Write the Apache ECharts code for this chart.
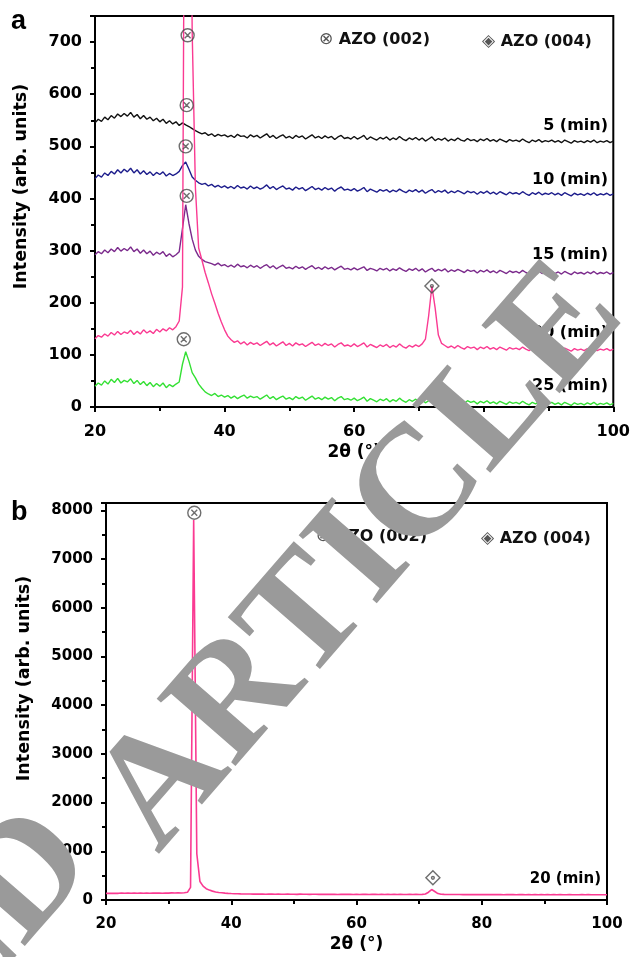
<!DOCTYPE html>
<html>
  <head>
    <meta charset="utf-8" />
    <title>AZO XRD</title>
    <script src="https://cdn.jsdelivr.net/npm/echarts@6/dist/echarts.min.js"></script>
    <style>
      html, body { margin: 0; padding: 0; background: #fff; }
    </style>
  </head>
  <body>
    <div id="main" style="width: 633px; height: 957px"></div>

    <script type="text/javascript">
      // intensities sampled every 0.5 deg of 2theta, from 20 to 100
      var thetaStart = 20;
      var thetaStep = 0.5;

      var min5 = [
        545, 552, 548, 556, 551, 559, 554, 562, 557, 563,
        558, 565, 556, 561, 553, 559, 552, 556, 549, 554,
        547, 552, 544, 549, 543, 547, 540, 545, 541, 538,
        534, 530, 527, 524, 526, 521, 524, 519, 523, 520,
        522, 518, 521, 517, 523, 519, 520, 516, 522, 518,
        521, 516, 520, 524, 517, 521, 515, 519, 522, 516,
        519, 515, 521, 517, 520, 514, 518, 522, 516, 519,
        515, 520, 516, 519, 513, 518, 521, 515, 517, 514,
        519, 514, 517, 521, 513, 518, 515, 512, 517, 514,
        518, 512, 516, 513, 519, 514, 511, 516, 513, 517,
        512, 516, 510, 514, 518, 511, 515, 512, 516, 510,
        514, 511, 516, 512, 510, 515, 511, 513, 509, 514,
        511, 515, 510, 513, 509, 514, 511, 508, 513, 510,
        512, 509, 514, 510, 507, 512, 509, 513, 508, 511,
        509, 512, 508, 511, 507, 512, 509, 506, 511, 508,
        510, 507, 511, 508, 512, 507, 510, 508, 511, 507,
        510
      ];
      var min10 = [
        438, 445, 441, 449, 444, 452, 447, 455, 449, 456,
        451, 458, 449, 455, 447, 453, 446, 451, 444, 450,
        446, 451, 443, 448, 444, 447, 452, 463, 470, 456,
        441, 435, 430, 427, 429, 424, 427, 422, 425, 421,
        424, 420, 423, 419, 425, 420, 422, 418, 424, 419,
        422, 418, 421, 426, 419, 423, 417, 421, 424, 418,
        420, 416, 422, 418, 421, 415, 419, 423, 417, 420,
        416, 421, 417, 420, 414, 419, 422, 416, 418, 415,
        419, 414, 417, 421, 413, 418, 415, 412, 417, 414,
        417, 412, 416, 413, 418, 414, 411, 416, 413, 417,
        412, 416, 410, 414, 417, 411, 415, 412, 416, 410,
        414, 411, 415, 412, 409, 414, 411, 413, 408, 413,
        410, 414, 409, 412, 408, 413, 410, 407, 412, 409,
        411, 408, 413, 409, 406, 411, 408, 412, 407, 410,
        408, 411, 407, 410, 406, 411, 408, 405, 410, 407,
        409, 406, 410, 407, 411, 406, 409, 407, 410, 406,
        409
      ];
      var min15 = [
        292, 298, 294, 301, 296, 303, 298, 306, 299, 304,
        300, 307, 298, 303, 295, 301, 294, 299, 291, 297,
        293, 298, 289, 294, 288, 292, 298, 342, 388, 352,
        322, 301, 289, 283, 279, 277, 275, 272, 276, 271,
        273, 269, 272, 268, 274, 269, 271, 267, 272, 268,
        271, 266, 270, 273, 267, 271, 265, 269, 272, 266,
        268, 265, 270, 266, 269, 264, 268, 271, 265, 268,
        264, 269, 265, 268, 263, 267, 270, 264, 266, 263,
        267, 263, 266, 269, 262, 266, 264, 261, 266, 263,
        266, 261, 265, 262, 267, 263, 260, 265, 262, 266,
        261, 265, 259, 263, 266, 260, 264, 261, 265, 259,
        263, 260, 264, 261, 258, 263, 260, 262, 257, 262,
        259, 263, 258, 261, 257, 262, 259, 256, 261, 258,
        260, 257, 262, 258, 255, 260, 257, 261, 256, 259,
        257, 260, 256, 259, 255, 260, 257, 254, 259, 256,
        258, 255, 259, 256, 260, 255, 258, 256, 259, 255,
        258
      ];
      var min20 = [
        131, 137, 134, 140, 136, 143, 138, 145, 139, 144,
        141, 147, 139, 145, 140, 148, 142, 146, 141, 149,
        144, 150, 146, 152, 148, 154, 165, 230, 1600, 1500,
        720, 420, 305, 282, 258, 238, 217, 199, 180, 163,
        148, 136, 129, 124, 127, 121, 125, 119, 124, 120,
        123, 118, 122, 126, 119, 123, 117, 121, 125, 118,
        122, 117, 123, 119, 121, 116, 120, 124, 118, 121,
        117, 122, 118, 121, 115, 120, 123, 117, 119, 116,
        121, 116, 119, 123, 115, 120, 117, 114, 119, 116,
        120, 114, 118, 115, 121, 116, 113, 118, 115, 119,
        116, 121, 130, 175, 232, 190, 138, 122, 118, 114,
        117, 113, 118, 114, 111, 116, 113, 115, 110, 115,
        112, 116, 111, 114, 110, 115, 112, 109, 114, 111,
        113, 110, 115, 111, 108, 113, 110, 114, 109, 112,
        110, 113, 109, 112, 108, 113, 110, 107, 112, 109,
        111, 108, 112, 109, 113, 108, 111, 109, 112, 108,
        111
      ];
      var min25 = [
        40, 46, 42, 50, 44, 53, 47, 55, 46, 51,
        48, 54, 45, 51, 43, 49, 41, 47, 39, 45,
        40, 46, 37, 43, 39, 44, 48, 82, 106, 88,
        66, 56, 44, 36, 29, 25, 22, 26, 20, 23,
        19, 22, 17, 21, 16, 20, 23, 17, 21, 18,
        20, 15, 19, 23, 16, 20, 14, 18, 21, 15,
        18, 14, 20, 16, 19, 13, 17, 21, 15, 18,
        14, 19, 15, 18, 12, 17, 20, 14, 16, 13,
        17, 12, 15, 19, 11, 16, 13, 10, 15, 12,
        16, 10, 14, 11, 17, 12, 9, 14, 11, 15,
        10, 14, 8, 12, 16, 9, 13, 10, 14, 8,
        12, 9, 13, 10, 7, 12, 9, 11, 6, 11,
        8, 12, 7, 10, 6, 11, 8, 5, 10, 7,
        9, 6, 11, 7, 4, 9, 6, 10, 5, 8,
        6, 9, 5, 8, 4, 9, 6, 3, 8, 5,
        7, 4, 8, 5, 9, 4, 7, 5, 8, 4,
        7
      ];
      // panel b: the 20 min film on full scale
      var full20 = [
        135, 138, 136, 140, 137, 141, 138, 142, 139, 141,
        140, 143, 139, 142, 140, 144, 141, 143, 140, 145,
        142, 146, 143, 147, 145, 150, 158, 260, 7800, 950,
        380, 285, 232, 203, 182, 166, 155, 148, 141, 136,
        132, 129, 127, 125, 124, 122, 123, 121, 122, 120,
        121, 119, 120, 121, 118, 120, 117, 119, 120, 117,
        119, 116, 120, 117, 118, 115, 117, 119, 116, 118,
        116, 118, 115, 117, 114, 116, 118, 115, 116, 114,
        117, 114, 116, 118, 113, 116, 115, 113, 116, 114,
        116, 113, 115, 114, 116, 114, 112, 115, 113, 115,
        113, 116, 124, 160, 215, 175, 132, 118, 115, 113,
        114, 112, 114, 112, 111, 113, 111, 112, 110, 112,
        111, 113, 110, 112, 110, 112, 111, 109, 111, 110,
        111, 109, 112, 110, 108, 111, 109, 111, 108, 110,
        109, 111, 108, 110, 108, 110, 109, 107, 110, 108,
        109, 107, 110, 108, 110, 107, 109, 108, 109, 107,
        108
      ];

      // peak markers [2theta, intensity]
      var azo002A = [[34.3, 713], [34.15, 579], [34.0, 500], [34.15, 405], [33.7, 130]];
      var azo004A = [[72.0, 232]];
      var azo002B = [[34.1, 7950]];
      var azo004B = [[72.2, 455]];

      var curveNamesA = ["5 (min)", "10 (min)", "15 (min)", "20 (min)", "25 (min)"];
      var curveColors = ["#111111", "#1d1d8c", "#7b2a8c", "#fa3a92", "#34e034"];

      function toPairs(arr) {
        return arr.map(function (v, i) {
          return [thetaStart + i * thetaStep, v];
        });
      }

      var circleCross =
        "path://M0,-10A10,10,0,1,1,0,10A10,10,0,1,1,0,-10ZM-4.5,-4.5L4.5,4.5M4.5,-4.5L-4.5,4.5";
      var diamondDot =
        "path://M0,-10L10,0L0,10L-10,0ZM0,-2A2,2,0,1,1,0,2A2,2,0,1,1,0,-2Z";

      var font = '"DejaVu Sans", Verdana, sans-serif';

      function xAxisFor(idx, size, nameGap) {
        return {
          type: "value",
          gridIndex: idx,
          min: 20,
          max: 100,
          interval: 20,
          name: "2θ (°)",
          nameLocation: "middle",
          nameGap: nameGap,
          nameTextStyle: { fontFamily: font, fontWeight: "bold", fontSize: 17, color: "#000" },
          axisLine: { onZero: false, lineStyle: { color: "#000", width: 2 } },
          axisTick: { length: 5, lineStyle: { color: "#000", width: 2 } },
          minorTick: { show: true, splitNumber: 2, length: 4, lineStyle: { color: "#000", width: 2 } },
          axisLabel: { fontFamily: font, fontWeight: "bold", fontSize: size, color: "#000", margin: 17 },
          splitLine: { show: false },
        };
      }

      function yAxisFor(idx, max, step, size, nameGap, shift) {
        return {
          type: "value",
          gridIndex: idx,
          min: 0,
          max: max,
          interval: step,
          name: "Intensity (arb. units)",
          nameLocation: "middle",
          nameGap: nameGap,
          nameTextStyle: {
            fontFamily: font,
            fontWeight: "bold",
            fontSize: 17.5,
            color: "#000",
            padding: [0, 0, 0, shift],
          },
          axisLine: { lineStyle: { color: "#000", width: 2 } },
          axisTick: { length: 5, lineStyle: { color: "#000", width: 2 } },
          minorTick: { show: true, splitNumber: 2, length: 4, lineStyle: { color: "#000", width: 2 } },
          axisLabel: {
            fontFamily: font,
            fontWeight: "bold",
            fontSize: size,
            color: "#000",
            margin: 13,
            formatter: function (v) {
              return v % step === 0 ? String(v) : "";
            },
          },
          splitLine: { show: false },
        };
      }

      function markerSeries(data, symbol, size, xi) {
        return {
          type: "scatter",
          xAxisIndex: xi,
          yAxisIndex: xi,
          data: data,
          symbol: symbol,
          symbolSize: size,
          itemStyle: { color: "rgba(0,0,0,0)", borderColor: "#4a4a4a", borderWidth: 1.4 },
          z: 5,
          silent: true,
        };
      }

      var seriesA = [min5, min10, min15, min20, min25].map(function (arr, i) {
        return {
          type: "line",
          name: curveNamesA[i],
          xAxisIndex: 0,
          yAxisIndex: 0,
          data: toPairs(arr),
          showSymbol: false,
          lineStyle: { color: curveColors[i], width: 1.4 },
        };
      });

      var seriesB = [
        {
          type: "line",
          name: "20 (min)",
          xAxisIndex: 1,
          yAxisIndex: 1,
          data: toPairs(full20),
          showSymbol: false,
          lineStyle: { color: curveColors[3], width: 1.6 },
        },
      ];

      function label(x, y, text, size, align, family) {
        return {
          type: "text",
          x: x,
          y: y,
          z: 10,
          style: {
            text: text,
            align: align || "right",
            verticalAlign: "middle",
            font: "bold " + (size || 16) + "px " + (family || font),
            fill: "#000",
          },
        };
      }

      function legendItem(x, y, sym, text) {
        return {
          type: "text",
          x: x,
          y: y,
          z: 10,
          style: {
            text: "{s|" + sym + "} " + text,
            align: "left",
            verticalAlign: "middle",
            font: "bold 16px " + font,
            fill: "#111",
            rich: { s: { fontFamily: '"DejaVu Sans"', fontSize: 17, fill: "#555" } },
          },
        };
      }

      // grey stamp over the figure
      function stamp(x, y, text) {
        return {
          type: "text",
          x: x,
          y: y,
          rotation: (49 * Math.PI) / 180,
          z: 100,
          silent: true,
          style: {
            text: text,
            align: "right",
            verticalAlign: "middle",
            font: 'bold 158px "Liberation Serif", "Times New Roman", serif',
            fill: "#9a9a9a",
          },
        };
      }

      var myChart = echarts.init(document.getElementById("main"), null, { renderer: "canvas" });

      var option = {
        animation: false,
        backgroundColor: "#fff",
        grid: [
          { left: 95, right: 18, top: 16, height: 391, show: true, borderColor: "#000", borderWidth: 2 },
          { left: 106, right: 26, top: 503, height: 397, show: true, borderColor: "#000", borderWidth: 2 },
        ],
        xAxis: [xAxisFor(0, 16, 37), xAxisFor(1, 15, 36)],
        yAxis: [yAxisFor(0, 750, 100, 16, 65, 50), yAxisFor(1, 8150, 1000, 15, 73, 46)],
        series: seriesA.concat(seriesB, [
          markerSeries(azo002A, circleCross, 13, 0),
          markerSeries(azo004A, diamondDot, 14, 0),
          markerSeries(azo002B, circleCross, 13, 1),
          markerSeries(azo004B, diamondDot, 14, 1),
        ]),
        graphic: [
          label(11, 22, "a", 27, "left", '"Liberation Sans", Arial, sans-serif'),
          label(11, 513, "b", 27, "left", '"Liberation Sans", Arial, sans-serif'),
          legendItem(319, 40, "⊗", "AZO (002)"),
          legendItem(482, 42, "◈", "AZO (004)"),
          legendItem(316, 537, "⊗", "AZO (002)"),
          legendItem(481, 539, "◈", "AZO (004)"),
          label(608, 126, "5 (min)"),
          label(608, 180, "10 (min)"),
          label(608, 255, "15 (min)"),
          label(608, 333, "20 (min)"),
          label(608, 386, "25 (min)"),
          label(601, 879, "20 (min)", 15),
          stamp(596, 289, "ARTICLE"),
          stamp(67, 835, "RETRACTED"),
        ],
      };
      myChart.setOption(option);
    </script>
  </body>
</html>
